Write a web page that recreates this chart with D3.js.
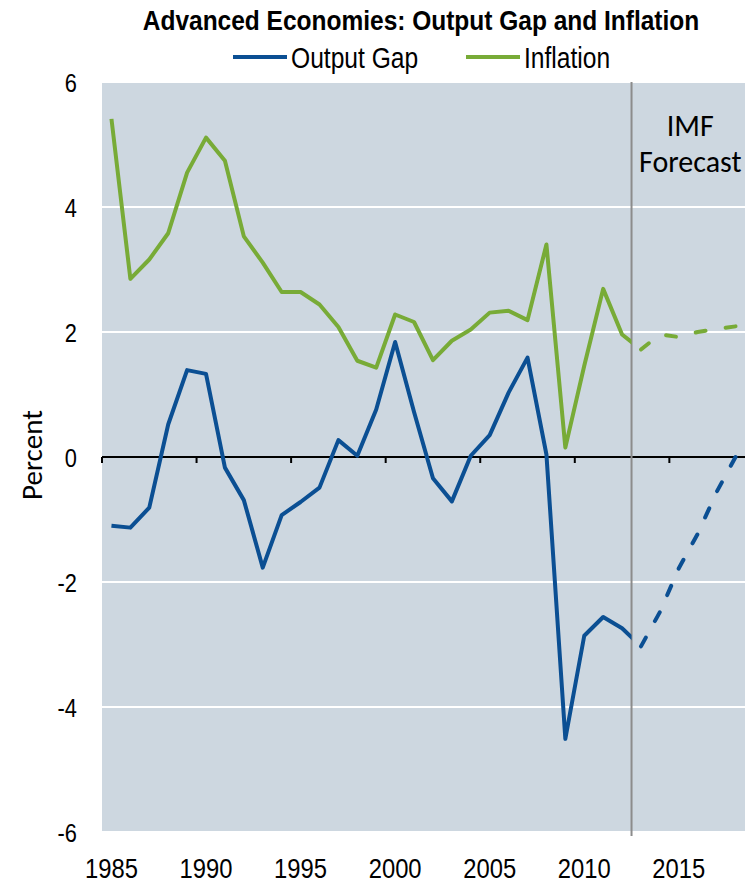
<!DOCTYPE html>
<html>
<head>
<meta charset="utf-8">
<script src="https://cdn.jsdelivr.net/npm/d3@7"></script>
<style>
  html, body { margin: 0; padding: 0; background: #ffffff; }
  svg { display: block; }
  .narrow { font-family: 'Liberation Sans', Arial, sans-serif; }
  .cal { font-family: Carlito, Calibri, Lato, 'Open Sans', sans-serif; }
</style>
</head>
<body>
<svg id="chart" width="754" height="884"></svg>
<script>
// Advanced economies: output gap and inflation, 1985–2018 (2013 onward = IMF forecast)
const years = d3.range(1985, 2019);
const outputGap = [
  -1.10, -1.13, -0.81, 0.52, 1.39, 1.33, -0.17, -0.69, -1.77, -0.93,
  -0.72, -0.49, 0.27, 0.02, 0.76, 1.84, 0.72, -0.34, -0.71, 0.02,
  0.35, 1.03, 1.59, 0.04, -4.51, -2.86, -2.56, -2.74, -3.03, -2.48,
  -1.78, -1.23, -0.56, 0.00
];
const inflation = [
  5.41, 2.85, 3.16, 3.58, 4.55, 5.11, 4.74, 3.53, 3.11, 2.64,
  2.64, 2.44, 2.08, 1.54, 1.43, 2.28, 2.16, 1.55, 1.86, 2.04,
  2.31, 2.34, 2.19, 3.40, 0.15, 1.46, 2.69, 1.96, 1.72, 1.96,
  1.92, 2.00, 2.05, 2.09
];
const firstForecastYear = 2013;
const yTicks = [6, 4, 2, 0, -2, -4, -6];
const xLabelYears = [1985, 1990, 1995, 2000, 2005, 2010, 2015];
const seriesNames = ["Output Gap", "Inflation"];
const seriesColors = ["#0b4f93", "#78ab37"];
const titleText = "Advanced Economies: Output Gap and Inflation";
const forecastLabel = ["IMF", "Forecast"];
const yAxisTitle = "Percent";

const NARROW = 0.82; // horizontal squeeze for the condensed labels

const svg = d3.select("#chart");
const plot = { left: 102, right: 745, top: 82, bottom: 832 };

const x = d3.scaleBand().domain(years).range([plot.left, plot.right]).padding(0);
const xc = yr => x(yr) + x.bandwidth() / 2;
const y = d3.scaleLinear().domain([-6, 6]).range([plot.bottom, plot.top]);

// condensed text helper
function narrowText(parent, tx, ty, str, size, anchor, weight, squeeze) {
  return parent.append("text")
    .attr("class", "narrow")
    .attr("transform", `translate(${tx},${ty}) scale(${squeeze || NARROW},1)`)
    .attr("text-anchor", anchor)
    .attr("font-size", size)
    .attr("font-weight", weight || "normal")
    .attr("fill", "#000")
    .text(str);
}

// plot background
svg.append("rect")
  .attr("x", plot.left).attr("y", plot.top)
  .attr("width", plot.right - plot.left).attr("height", plot.bottom - plot.top)
  .attr("fill", "#cdd7e0");

// horizontal gridlines
svg.append("g").selectAll("line")
  .data(yTicks.filter(v => v !== 0))
  .join("line")
  .attr("x1", plot.left).attr("x2", plot.right)
  .attr("y1", d => y(d)).attr("y2", d => y(d))
  .attr("stroke", "#ffffff").attr("stroke-width", 2);

// y tick labels
const yLab = svg.append("g");
yTicks.forEach(v => narrowText(yLab, 77, y(v) + 9.5, v, 26, "end", "normal", 0.84));

// y axis title
svg.append("text").attr("class", "cal")
  .attr("transform", `translate(42, ${y(0) - 2}) rotate(-90)`)
  .attr("text-anchor", "middle")
  .attr("font-size", 29)
  .text(yAxisTitle);

// x labels at the bottom
const xLab = svg.append("g");
xLabelYears.forEach(yr => narrowText(xLab, xc(yr), 878, yr, 28, "middle", "normal", 0.85));

// zero line with category ticks
const zeroY = y(0);
svg.append("line")
  .attr("x1", plot.left).attr("x2", plot.right)
  .attr("y1", zeroY).attr("y2", zeroY)
  .attr("stroke", "#000").attr("stroke-width", 2);
svg.append("g").selectAll("line")
  .data(years.filter((d, i) => i % 5 === 0))
  .join("line")
  .attr("x1", d => x(d)).attr("x2", d => x(d))
  .attr("y1", zeroY).attr("y2", zeroY + 6)
  .attr("stroke", "#000").attr("stroke-width", 2);

// forecast divider
const fx = x(firstForecastYear);
svg.append("line")
  .attr("x1", fx).attr("x2", fx)
  .attr("y1", plot.top).attr("y2", plot.bottom + 4)
  .attr("stroke", "#8c8c8c").attr("stroke-width", 2);

svg.append("g").attr("class", "cal").selectAll("text")
  .data(forecastLabel)
  .join("text")
  .attr("x", (fx + plot.right) / 2 + 2)
  .attr("y", (d, i) => 136 + i * 36)
  .attr("text-anchor", "middle")
  .attr("font-size", 30)
  .text(d => d);

// clip so the history segment stops at the divider
svg.append("clipPath").attr("id", "histClip")
  .append("rect").attr("x", 0).attr("y", 0).attr("width", fx).attr("height", 884);

const line = d3.line().x(d => xc(d.year)).y(d => y(d.value));
const seriesData = [outputGap, inflation].map(vals => years.map((yr, i) => ({ year: yr, value: vals[i] })));

seriesData.forEach((pts, s) => {
  const hist = pts.filter(p => p.year <= firstForecastYear);
  const fcst = pts.filter(p => p.year >= firstForecastYear);
  svg.append("path")
    .attr("d", line(hist))
    .attr("clip-path", "url(#histClip)")
    .attr("fill", "none")
    .attr("stroke", seriesColors[s])
    .attr("stroke-width", 4)
    .attr("stroke-linejoin", "round");
  const fp = svg.append("path")
    .attr("d", line(fcst))
    .attr("fill", "none")
    .attr("stroke", seriesColors[s])
    .attr("stroke-width", 4)
    .attr("stroke-linejoin", "round")
    .attr("stroke-linecap", "round");
  // fit the dash rhythm so the forecast starts and ends on a dash
  const L = fp.node().getTotalLength();
  const dash = 10;
  const k = Math.max(1, Math.round((L - dash) / 27));
  const gap = (L - (k + 1) * dash) / k;
  fp.attr("stroke-dasharray", `${dash},${gap}`);
});

// title
narrowText(svg, 421, 30, titleText, 28, "middle", "bold", 0.875);

// legend
const legendItems = [
  { name: seriesNames[0], color: seriesColors[0], x0: 233 },
  { name: seriesNames[1], color: seriesColors[1], x0: 466 }
];
const lg = svg.append("g");
legendItems.forEach(it => {
  lg.append("line")
    .attr("x1", it.x0).attr("x2", it.x0 + 54)
    .attr("y1", 57).attr("y2", 57)
    .attr("stroke", it.color).attr("stroke-width", 4);
  narrowText(lg, it.x0 + 58, 68, it.name, 30, "start");
});
</script>
</body>
</html>
